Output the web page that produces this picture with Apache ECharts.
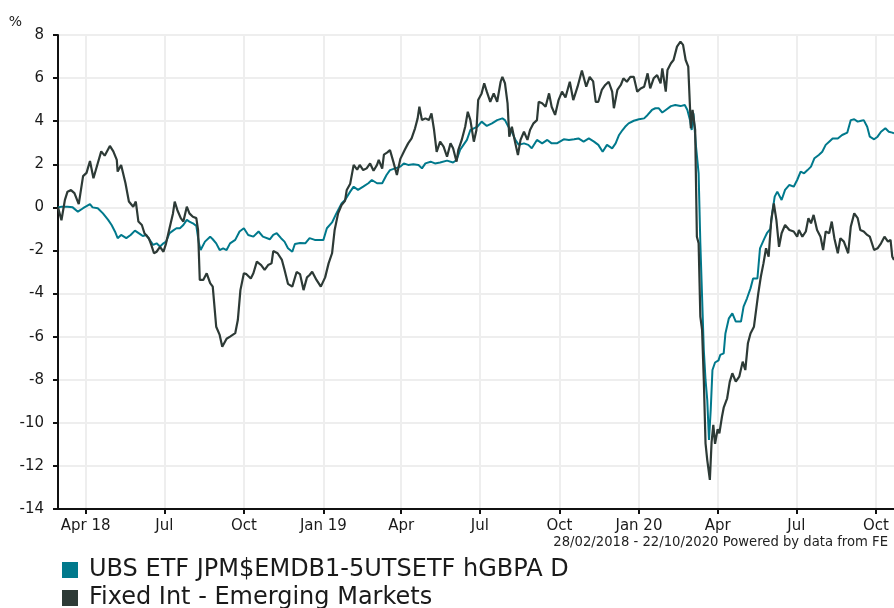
<!DOCTYPE html>
<html>
<head>
<meta charset="utf-8">
<script src="https://cdn.jsdelivr.net/npm/echarts@6/dist/echarts.min.js"></script>
<style>html,body{margin:0;padding:0;background:#fff;}#c{width:894px;height:608px;}</style>
</head>
<body>
<div id="c"></div>
<script>
// Day offsets from 28/02/2018 and % values
const seriesNames = ['UBS ETF JPM$EMDB1-5UTSETF hGBPA D', 'Fixed Int - Emerging Markets'];
const ubsData = [[0,0],[4,0.03],[11,0.03],[17,0],[23,-0.2],[29,-0.04],[37,0.15],[40,0],[46,-0.04],[52,-0.28],[58,-0.58],[62,-0.82],[66,-1.13],[69,-1.43],[73,-1.28],[79,-1.43],[84,-1.28],[89,-1.08],[95,-1.24],[98,-1.33],[102,-1.28],[106,-1.51],[110,-1.74],[114,-1.67],[118,-1.82],[122,-1.67],[125,-1.59],[129,-1.2],[133,-1.08],[137,-0.97],[141,-0.97],[145,-0.82],[149,-0.58],[152,-0.66],[156,-0.74],[160,-0.86],[163,-1.67],[165,-1.98],[170,-1.59],[176,-1.36],[179,-1.48],[183,-1.67],[187,-1.98],[191,-1.9],[195,-1.98],[199,-1.67],[205,-1.51],[210,-1.12],[215,-0.97],[220,-1.28],[226,-1.36],[232,-1.12],[237,-1.36],[245,-1.48],[249,-1.28],[253,-1.2],[258,-1.43],[262,-1.59],[266,-1.9],[271,-2.06],[274,-1.7],[280,-1.65],[286,-1.67],[291,-1.43],[297,-1.51],[303,-1.51],[307,-1.51],[311,-0.97],[317,-0.7],[322,-0.28],[328,0.18],[332,0.34],[338,0.73],[342,0.96],[347,0.81],[353,0.96],[359,1.12],[363,1.27],[369,1.12],[375,1.12],[380,1.5],[384,1.73],[390,1.81],[396,1.89],[400,2.04],[405,1.97],[411,2.0],[417,1.97],[421,1.81],[425,2.04],[431,2.12],[436,2.04],[442,2.08],[450,2.17],[457,2.08],[461,2.2],[465,2.66],[469,2.9],[473,3.13],[477,3.59],[481,3.67],[485,3.74],[490,3.98],[496,3.78],[502,3.9],[508,4.05],[514,4.13],[517,4.05],[521,3.74],[525,3.51],[529,3.13],[533,2.9],[539,2.97],[544,2.9],[548,2.74],[554,3.13],[560,2.97],[566,3.13],[571,2.97],[577,2.97],[585,3.16],[591,3.13],[597,3.16],[602,3.2],[608,3.05],[614,3.2],[620,3.05],[625,2.9],[630,2.58],[635,2.9],[641,2.74],[645,2.97],[649,3.36],[653,3.59],[656,3.74],[660,3.9],[666,4.02],[672,4.09],[678,4.13],[682,4.29],[687,4.52],[691,4.6],[695,4.6],[699,4.4],[703,4.52],[709,4.7],[714,4.75],[720,4.7],[725,4.75],[728,4.52],[731,4.05],[733,3.59],[735,4.36],[738,2.82],[741,1.58],[743,-1.67],[745,-4.14],[747,-6.62],[749,-8.01],[751,-8.94],[753,-10.8],[755,-9.4],[757,-7.55],[760,-7.2],[764,-7.1],[766,-6.85],[770,-6.78],[772,-5.85],[776,-5.15],[780,-4.92],[784,-5.3],[790,-5.3],[793,-4.61],[797,-4.22],[801,-3.76],[804,-3.3],[809,-3.3],[812,-1.9],[817,-1.45],[820,-1.2],[824,-1.0],[826,-0.3],[829,0.5],[832,0.73],[837,0.34],[841,0.81],[846,1.04],[851,0.96],[855,1.27],[859,1.66],[863,1.58],[867,1.73],[871,1.89],[875,2.28],[880,2.43],[884,2.58],[888,2.9],[892,3.05],[896,3.2],[902,3.2],[907,3.36],[913,3.47],[917,4.05],[921,4.09],[925,3.98],[929,4.02],[932,4.05],[936,3.74],[939,3.28],[944,3.16],[948,3.28],[952,3.51],[957,3.67],[961,3.51],[965,3.47],[967,3.44]];
const emData = [[0,0],[4,-0.6],[8,0.35],[11,0.73],[15,0.8],[19,0.66],[24,0.15],[29,1.45],[33,1.6],[37,2.15],[41,1.35],[46,2.05],[50,2.6],[54,2.4],[60,2.85],[64,2.6],[68,2.2],[69,1.66],[73,1.97],[78,1.13],[82,0.27],[87,0.03],[90,0.27],[93,-0.66],[97,-0.82],[100,-1.2],[105,-1.43],[108,-1.75],[111,-2.13],[114,-2.06],[118,-1.83],[122,-2.06],[125,-1.67],[129,-0.97],[133,-0.28],[135,0.27],[138,-0.12],[142,-0.5],[145,-0.66],[149,0.03],[152,-0.28],[156,-0.44],[160,-0.5],[162,-1.05],[164,-3.37],[168,-3.37],[172,-3.06],[176,-3.52],[179,-3.68],[183,-5.54],[187,-5.92],[190,-6.47],[195,-6.1],[199,-6.0],[201,-5.92],[205,-5.84],[208,-5.23],[211,-3.84],[215,-3.06],[218,-3.1],[223,-3.3],[226,-3.06],[230,-2.52],[235,-2.68],[239,-2.9],[243,-2.68],[247,-2.6],[249,-2.03],[254,-2.13],[259,-2.44],[262,-2.9],[266,-3.55],[271,-3.68],[276,-3.0],[280,-3.1],[284,-3.84],[288,-3.25],[291,-3.14],[294,-2.99],[299,-3.37],[304,-3.68],[309,-3.25],[313,-2.6],[317,-2.13],[320,-1.05],[324,-0.28],[328,0.11],[332,0.3],[334,0.81],[338,1.1],[342,1.97],[346,1.75],[349,1.97],[353,1.73],[357,1.81],[361,2.04],[365,1.7],[369,1.97],[371,2.2],[375,1.8],[377,2.45],[381,2.55],[384,2.66],[388,2.1],[392,1.5],[396,2.25],[401,2.66],[405,2.97],[409,3.2],[413,3.67],[416,4.13],[418,4.67],[421,4.05],[425,4.13],[429,4.05],[432,4.36],[435,3.59],[438,2.58],[442,3.05],[446,2.82],[450,2.35],[454,2.97],[457,2.74],[461,2.12],[463,2.66],[467,3.13],[471,3.74],[474,4.44],[477,4.05],[481,3.05],[484,3.59],[486,4.98],[490,5.29],[493,5.76],[496,5.37],[500,4.9],[504,5.29],[508,4.9],[512,5.83],[514,6.06],[517,5.76],[520,4.83],[522,3.28],[525,3.74],[529,2.97],[532,2.43],[535,3.13],[539,3.51],[543,3.13],[546,3.59],[550,3.9],[554,4.05],[556,4.9],[560,4.83],[564,4.67],[568,5.29],[571,4.67],[575,4.29],[579,4.98],[583,5.37],[587,5.1],[592,5.83],[596,4.98],[601,5.6],[606,6.35],[611,5.6],[615,6.06],[619,5.85],[622,4.9],[625,4.9],[629,5.45],[633,5.68],[637,5.83],[641,5.37],[643,4.6],[647,5.45],[651,5.68],[654,5.99],[658,5.83],[662,6.06],[666,6.06],[670,5.37],[674,5.52],[678,5.6],[682,6.22],[685,5.52],[689,5.99],[693,6.14],[697,5.76],[699,6.45],[703,5.37],[705,6.38],[709,6.69],[712,6.84],[716,7.46],[720,7.69],[723,7.54],[726,6.84],[729,6.53],[731,4.67],[732,3.67],[734,4.52],[736,4.6],[737,3.59],[739,-1.36],[741,-1.67],[743,-5.07],[745,-5.69],[747,-8.01],[749,-10.95],[751,-11.73],[754,-12.65],[756,-10.9],[758,-10.1],[760,-10.98],[763,-10.3],[765,-10.49],[768,-9.72],[770,-9.3],[774,-8.86],[777,-8.1],[780,-7.7],[784,-8.09],[788,-7.86],[792,-7.16],[795,-7.55],[798,-6.31],[801,-5.85],[805,-5.54],[807,-5.6],[810,-3.99],[813,-3.21],[816,-2.6],[819,-1.9],[822,-2.29],[825,-0.6],[828,0.18],[831,-0.6],[834,-1.83],[837,-1.2],[841,-0.82],[846,-1.05],[851,-1.12],[855,-1.36],[857,-1.05],[861,-1.36],[865,-1.12],[868,-0.5],[871,-0.74],[874,-0.35],[878,-1.05],[882,-1.36],[885,-1.98],[888,-1.12],[892,-1.2],[895,-0.66],[898,-1.43],[902,-2.13],[905,-1.43],[909,-1.59],[914,-2.13],[917,-0.9],[921,-0.28],[925,-0.5],[928,-1.05],[932,-1.12],[936,-1.28],[939,-1.36],[944,-1.98],[948,-1.9],[952,-1.67],[956,-1.36],[960,-1.59],[963,-1.51],[965,-2.29],[967,-2.44]];
const tickDates = ['2018-04-01','2018-07-01','2018-10-01','2019-01-01','2019-04-01','2019-07-01','2019-10-01','2020-01-01','2020-04-01','2020-07-01','2020-10-01'];
const tickLabels = ['Apr 18','Jul','Oct','Jan 19','Apr','Jul','Oct','Jan 20','Apr','Jul','Oct'];
const yTicks = {min: -14, max: 8, interval: 2};
const footnote = '28/02/2018 - 22/10/2020 Powered by data from FE';

const DAY = 86400000;
const START = Date.UTC(2018, 1, 28);
const END = Date.UTC(2020, 9, 22);
function ts(s) { const p = s.split('-').map(Number); return Date.UTC(p[0], p[1] - 1, p[2]); }
const tickTs = tickDates.map(ts);
const toSeries = d => d.map(p => [START + p[0] * DAY, p[1]]);

const FONT = 'DejaVu Sans';
const legendBase = {
  orient: 'horizontal', left: 62, padding: 0,
  itemWidth: 16, itemHeight: 16, icon: 'rect',
  textStyle: {fontSize: 24, color: '#1a1a1a', fontFamily: FONT, lineHeight: 26, padding: [0, 0, 0, 6]}
};
const chart = echarts.init(document.getElementById('c'), null, {renderer: 'canvas'});
chart.setOption({
  animation: false,
  backgroundColor: '#ffffff',
  color: ['#00798c', '#2d3a36'],
  title: {
    text: footnote, right: 6, top: 536, padding: 0,
    textStyle: {fontSize: 13.2, fontWeight: 'normal', color: '#222', fontFamily: FONT}
  },
  legend: [
    Object.assign({}, legendBase, {top: 557, data: [seriesNames[0]]}),
    Object.assign({}, legendBase, {top: 585, data: [seriesNames[1]]})
  ],
  grid: {left: 58, right: 0, top: 35, bottom: 99, containLabel: false},
  xAxis: {
    type: 'value', min: START, max: END,
    axisLine: {show: true, onZero: false, lineStyle: {color: '#111', width: 2}},
    axisTick: {show: true, customValues: tickTs, length: 5, lineStyle: {color: '#111', width: 2}},
    axisLabel: {
      customValues: tickTs, margin: 10, fontSize: 15, color: '#1a1a1a', fontFamily: FONT,
      formatter: v => { const i = tickTs.findIndex(t => Math.abs(t - v) < DAY); return i >= 0 ? tickLabels[i] : ''; }
    },
    splitLine: {show: true, lineStyle: {color: '#eeeeee', width: 2}}
  },
  yAxis: {
    type: 'value', min: yTicks.min, max: yTicks.max, interval: yTicks.interval,
    name: '%', nameLocation: 'end', nameGap: 6,
    nameTextStyle: {fontSize: 14, color: '#1a1a1a', fontFamily: FONT, align: 'right', padding: [0, 36, 0, 0]},
    axisLine: {show: true, lineStyle: {color: '#111', width: 2}},
    axisTick: {show: true, length: 5, lineStyle: {color: '#111', width: 2}},
    axisLabel: {margin: 14, fontSize: 15, color: '#1a1a1a', fontFamily: FONT},
    splitLine: {show: true, lineStyle: {color: '#eeeeee', width: 2}}
  },
  series: [
    {name: seriesNames[0], type: 'line', data: toSeries(ubsData), showSymbol: false, symbol: 'none',
     lineStyle: {width: 2, color: '#00798c'}, itemStyle: {color: '#00798c'}},
    {name: seriesNames[1], type: 'line', data: toSeries(emData), showSymbol: false, symbol: 'none',
     lineStyle: {width: 2.2, color: '#2d3a36'}, itemStyle: {color: '#2d3a36'}}
  ]
});
</script>
</body>
</html>
